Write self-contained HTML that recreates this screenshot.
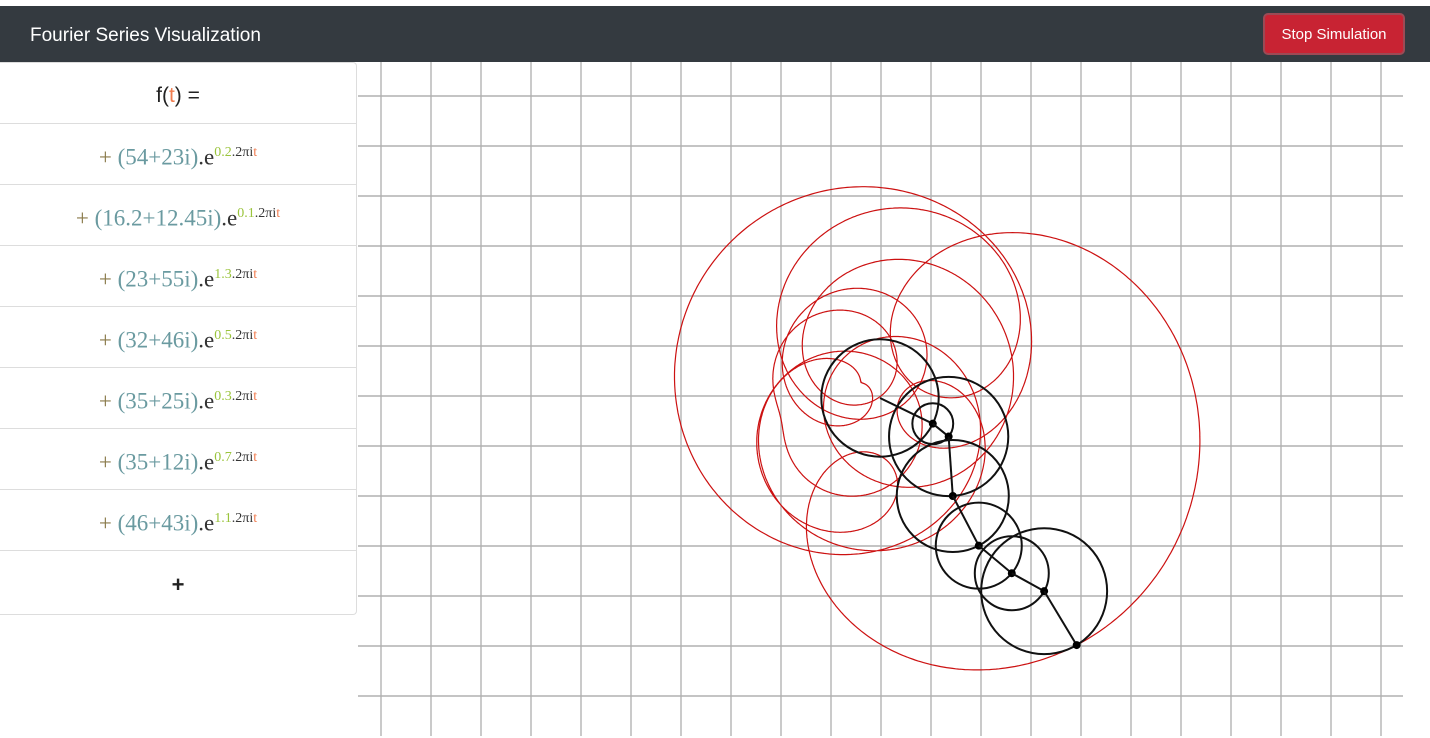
<!DOCTYPE html>
<html><head><meta charset="utf-8"><style>
body{margin:0;width:1430px;height:738px;overflow:hidden;background:#fff;font-family:"Liberation Sans",sans-serif;position:relative}
#hdr{position:absolute;left:0;top:6px;width:1430px;height:56px;background:#343a40}
#title{position:absolute;left:30px;top:19px;color:#fff;font-size:19px}
#btn{position:absolute;left:1263px;top:7px;width:142px;height:42px;background:#c82333;border:2px solid #9c4a55;border-radius:5px;box-sizing:border-box;color:#fff;font-size:15px;line-height:40px;text-align:center}
#panel{position:absolute;left:0;top:62px;width:357px;height:553px;border:1px solid #ddd;border-left:none;border-radius:0 4px 4px 0;box-sizing:border-box}
.row{height:61px;border-bottom:1px solid #ddd;box-sizing:border-box;text-align:center;line-height:58px;font-family:"Liberation Serif",serif;font-size:23px;color:#6a9aa0}
.row .p{color:#8a7a4a}.row .e{color:#333}.row sup{font-size:14px}.g{color:#9ac43c}.o{color:#f07d50}
#svg{position:absolute;left:358px;top:62px}
</style></head><body>
<div id="hdr"><div id="title">Fourier Series Visualization</div>
<div id="btn">Stop Simulation</div></div>
<div id="panel">
<div class="row" style="font-family:'Liberation Sans',sans-serif;color:#222;font-size:21px;line-height:66px">f(<span class="o">t</span>) =</div>
<div id="rows"></div>
<div class="row" style="border:none;color:#222;font-family:'Liberation Sans',sans-serif;font-weight:bold;font-size:22px;line-height:68px">+</div>
</div>
<svg id="svg" width="1047" height="674"></svg>
<script>
const reals=[54,16.2,23,32,35,35,46];
const imags=[23,12.45,55,46,25,12,43];
const freqs=[0.2,0.1,1.3,0.5,0.3,0.7,1.1];
const tNow=0.04;
const rows=document.getElementById('rows');
for(let k=0;k<reals.length;k++){
 const d=document.createElement('div');d.className='row';
 
 
 d.innerHTML='<span class="p">+ </span>('+reals[k]+'+'+imags[k]+'i)<span class="e">.e</span><sup><span class="g">'+freqs[k]+'</span><span class="e">.2πi</span><span class="o">t</span></sup>';
 rows.appendChild(d);
}
const svg=document.getElementById('svg');const NS='http://www.w3.org/2000/svg';
const ox=880-358, oy=398-62, sc=1;
function mk(t,a,name){const e=document.createElementNS(NS,t);for(const k in a)e.setAttribute(k,a[k]);
 
 
 svg.appendChild(e);return e;}
for(let x=23;x<1047;x+=50){mk('line',{x1:x,y1:0,x2:x,y2:674,stroke:x===ox?'#777':'#b8b8b8','stroke-width':1.5},'grid-v');}
for(let y=34;y<674;y+=50){mk('line',{x1:0,y1:y,x2:1045,y2:y,stroke:y===oy?'#555':'#b0b0b0','stroke-width':y===oy?1:1.5},'grid-h');}
function pos(t){let x=0,y=0,pts=[[0,0]];for(let k=0;k<reals.length;k++){const a=2*Math.PI*freqs[k]*t,c=Math.cos(a),s=Math.sin(a);x+=(reals[k]*c-imags[k]*s);y+=(reals[k]*s+imags[k]*c);pts.push([x,y]);}return pts;}
let d='';for(let i=0;i<=4000;i++){const p=pos(tNow+10*i/4000);const q=p[p.length-1];d+=(i?'L':'M')+(ox+q[0]*sc).toFixed(1)+' '+(oy+q[1]*sc).toFixed(1);}
mk('path',{d:d,fill:'none',stroke:'#cc1111','stroke-width':1.2},'trace-path');
const P=pos(tNow);
for(let k=0;k<reals.length;k++){const r=Math.hypot(reals[k],imags[k])*sc;
 mk('circle',{cx:ox+P[k][0]*sc,cy:oy+P[k][1]*sc,r:r,fill:'none',stroke:'#111','stroke-width':2},'epicycle-circle');
 mk('line',{x1:ox+P[k][0]*sc,y1:oy+P[k][1]*sc,x2:ox+P[k+1][0]*sc,y2:oy+P[k+1][1]*sc,stroke:'#111','stroke-width':2},'vector-arm');
 mk('circle',{cx:ox+P[k+1][0]*sc,cy:oy+P[k+1][1]*sc,r:4,fill:'#000'},'joint-dot');}
</script>
</body></html>
